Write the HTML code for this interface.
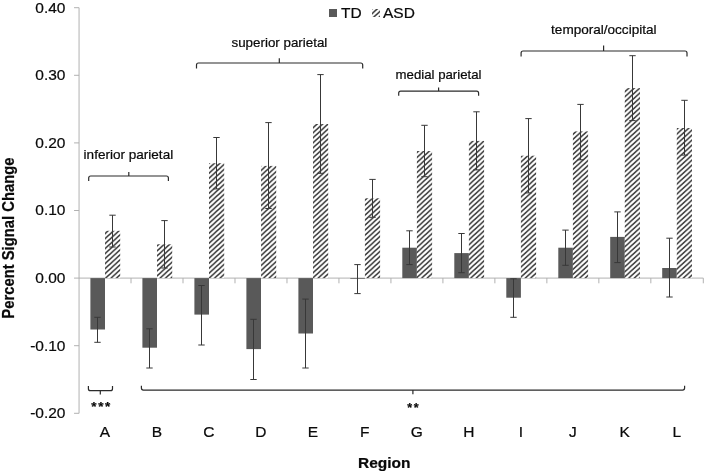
<!DOCTYPE html>
<html><head><meta charset="utf-8"><title>chart</title>
<style>
html,body{margin:0;padding:0;background:#fff;}
body{width:706px;height:473px;overflow:hidden;font-family:"Liberation Sans",sans-serif;}
svg{display:block;filter:grayscale(1) blur(0.45px)}
text{font-family:"Liberation Sans",sans-serif;fill:#0a0a0a;stroke:#0a0a0a;stroke-width:0.22px}
</style></head><body>
<svg width="706" height="473" viewBox="0 0 706 473">
<defs>
<pattern id="h" patternUnits="userSpaceOnUse" width="5" height="5" patternTransform="scale(1.09,1)">
<rect width="5" height="5" fill="#fff"/>
<path d="M-1 1 L1 -1 M-1 6 L6 -1 M4 6 L6 4" stroke="#3c3c3c" stroke-width="1.55" fill="none"/>
</pattern>
</defs>
<rect width="706" height="473" fill="#fff"/>

<g stroke="#adadad" stroke-width="0.95" fill="none">
<line x1="79.05" y1="7.699999999999989" x2="79.05" y2="413.30000000000007"/>
<line x1="79.05" y1="278.1" x2="703.31" y2="278.1"/>
<line x1="74.05" y1="7.7" x2="79.05" y2="7.7"/>
<line x1="74.05" y1="75.3" x2="79.05" y2="75.3"/>
<line x1="74.05" y1="142.9" x2="79.05" y2="142.9"/>
<line x1="74.05" y1="210.5" x2="79.05" y2="210.5"/>
<line x1="74.05" y1="278.1" x2="79.05" y2="278.1"/>
<line x1="74.05" y1="345.7" x2="79.05" y2="345.7"/>
<line x1="74.05" y1="413.3" x2="79.05" y2="413.3"/>
<line x1="131.03" y1="278.1" x2="131.03" y2="283.3"/>
<line x1="183.01" y1="278.1" x2="183.01" y2="283.3"/>
<line x1="234.99" y1="278.1" x2="234.99" y2="283.3"/>
<line x1="286.96999999999997" y1="278.1" x2="286.96999999999997" y2="283.3"/>
<line x1="338.95" y1="278.1" x2="338.95" y2="283.3"/>
<line x1="390.93" y1="278.1" x2="390.93" y2="283.3"/>
<line x1="442.90999999999997" y1="278.1" x2="442.90999999999997" y2="283.3"/>
<line x1="494.89" y1="278.1" x2="494.89" y2="283.3"/>
<line x1="546.87" y1="278.1" x2="546.87" y2="283.3"/>
<line x1="598.8499999999999" y1="278.1" x2="598.8499999999999" y2="283.3"/>
<line x1="650.8299999999999" y1="278.1" x2="650.8299999999999" y2="283.3"/>
<line x1="703.31" y1="278.1" x2="703.31" y2="283.3"/>
</g>
<text transform="translate(65.50,12.50) scale(1.02,1)" font-size="15.2" text-anchor="end">0.40</text>
<text transform="translate(65.50,80.10) scale(1.02,1)" font-size="15.2" text-anchor="end">0.30</text>
<text transform="translate(65.50,147.70) scale(1.02,1)" font-size="15.2" text-anchor="end">0.20</text>
<text transform="translate(65.50,215.30) scale(1.02,1)" font-size="15.2" text-anchor="end">0.10</text>
<text transform="translate(65.50,282.90) scale(1.02,1)" font-size="15.2" text-anchor="end">0.00</text>
<text transform="translate(65.50,350.50) scale(1.02,1)" font-size="15.2" text-anchor="end">-0.10</text>
<text transform="translate(65.50,418.10) scale(1.02,1)" font-size="15.2" text-anchor="end">-0.20</text>
<rect x="90.4" y="278.1" width="14.6" height="51.4" fill="#595959"/>
<rect x="105.0" y="230.8" width="15.2" height="47.3" fill="url(#h)"/>
<path d="M97.5 317.3 V342.3 M94.3 317.3 h6.4 M94.3 342.3 h6.4" stroke="#383838" stroke-width="1" fill="none"/>
<path d="M112.5 215.2 V247.0 M109.3 215.2 h6.4 M109.3 247.0 h6.4" stroke="#383838" stroke-width="1" fill="none"/>
<text transform="translate(104.94,437.00) scale(1.02,1)" font-size="15.2" text-anchor="middle">A</text>
<rect x="142.4" y="278.1" width="14.6" height="69.6" fill="#595959"/>
<rect x="157.0" y="244.3" width="15.2" height="33.8" fill="url(#h)"/>
<path d="M149.5 328.8 V368.0 M146.3 328.8 h6.4 M146.3 368.0 h6.4" stroke="#383838" stroke-width="1" fill="none"/>
<path d="M164.5 220.6 V268.0 M161.3 220.6 h6.4 M161.3 268.0 h6.4" stroke="#383838" stroke-width="1" fill="none"/>
<text transform="translate(156.92,437.00) scale(1.02,1)" font-size="15.2" text-anchor="middle">B</text>
<rect x="194.4" y="278.1" width="14.6" height="36.5" fill="#595959"/>
<rect x="209.0" y="163.2" width="15.2" height="114.9" fill="url(#h)"/>
<path d="M201.5 285.5 V345.0 M198.3 285.5 h6.4 M198.3 345.0 h6.4" stroke="#383838" stroke-width="1" fill="none"/>
<path d="M216.5 137.5 V188.9 M213.3 137.5 h6.4 M213.3 188.9 h6.4" stroke="#383838" stroke-width="1" fill="none"/>
<text transform="translate(208.90,437.00) scale(1.02,1)" font-size="15.2" text-anchor="middle">C</text>
<rect x="246.4" y="278.1" width="14.6" height="71.0" fill="#595959"/>
<rect x="261.0" y="165.9" width="15.2" height="112.2" fill="url(#h)"/>
<path d="M253.5 319.3 V379.5 M250.3 319.3 h6.4 M250.3 379.5 h6.4" stroke="#383838" stroke-width="1" fill="none"/>
<path d="M268.5 122.6 V208.5 M265.3 122.6 h6.4 M265.3 208.5 h6.4" stroke="#383838" stroke-width="1" fill="none"/>
<text transform="translate(260.88,437.00) scale(1.02,1)" font-size="15.2" text-anchor="middle">D</text>
<rect x="298.4" y="278.1" width="14.6" height="55.4" fill="#595959"/>
<rect x="313.0" y="124.0" width="15.2" height="154.1" fill="url(#h)"/>
<path d="M305.5 299.1 V368.0 M302.3 299.1 h6.4 M302.3 368.0 h6.4" stroke="#383838" stroke-width="1" fill="none"/>
<path d="M320.5 74.6 V173.3 M317.3 74.6 h6.4 M317.3 173.3 h6.4" stroke="#383838" stroke-width="1" fill="none"/>
<text transform="translate(312.86,437.00) scale(1.02,1)" font-size="15.2" text-anchor="middle">E</text>
<rect x="350.3" y="278.1" width="14.6" height="0.7" fill="#595959"/>
<rect x="364.9" y="198.3" width="15.2" height="79.8" fill="url(#h)"/>
<path d="M357.5 264.6 V293.6 M354.3 264.6 h6.4 M354.3 293.6 h6.4" stroke="#383838" stroke-width="1" fill="none"/>
<path d="M372.5 179.4 V217.3 M369.3 179.4 h6.4 M369.3 217.3 h6.4" stroke="#383838" stroke-width="1" fill="none"/>
<text transform="translate(364.84,437.00) scale(1.02,1)" font-size="15.2" text-anchor="middle">F</text>
<rect x="402.3" y="247.7" width="14.6" height="30.4" fill="#595959"/>
<rect x="416.9" y="151.0" width="15.2" height="127.1" fill="url(#h)"/>
<path d="M409.5 230.8 V264.6 M406.3 230.8 h6.4 M406.3 264.6 h6.4" stroke="#383838" stroke-width="1" fill="none"/>
<path d="M424.5 125.3 V176.7 M421.3 125.3 h6.4 M421.3 176.7 h6.4" stroke="#383838" stroke-width="1" fill="none"/>
<text transform="translate(416.82,437.00) scale(1.02,1)" font-size="15.2" text-anchor="middle">G</text>
<rect x="454.3" y="253.1" width="14.6" height="25.0" fill="#595959"/>
<rect x="468.9" y="140.9" width="15.2" height="137.2" fill="url(#h)"/>
<path d="M461.5 233.5 V272.7 M458.3 233.5 h6.4 M458.3 272.7 h6.4" stroke="#383838" stroke-width="1" fill="none"/>
<path d="M476.5 111.8 V169.9 M473.3 111.8 h6.4 M473.3 169.9 h6.4" stroke="#383838" stroke-width="1" fill="none"/>
<text transform="translate(468.80,437.00) scale(1.02,1)" font-size="15.2" text-anchor="middle">H</text>
<rect x="506.3" y="278.1" width="14.6" height="19.6" fill="#595959"/>
<rect x="520.9" y="155.7" width="15.2" height="122.4" fill="url(#h)"/>
<path d="M513.5 278.8 V317.3 M510.3 278.8 h6.4 M510.3 317.3 h6.4" stroke="#383838" stroke-width="1" fill="none"/>
<path d="M528.5 118.6 V192.9 M525.3 118.6 h6.4 M525.3 192.9 h6.4" stroke="#383838" stroke-width="1" fill="none"/>
<text transform="translate(520.78,437.00) scale(1.02,1)" font-size="15.2" text-anchor="middle">I</text>
<rect x="558.3" y="247.7" width="14.6" height="30.4" fill="#595959"/>
<rect x="572.9" y="131.4" width="15.2" height="146.7" fill="url(#h)"/>
<path d="M565.5 230.1 V265.3 M562.3 230.1 h6.4 M562.3 265.3 h6.4" stroke="#383838" stroke-width="1" fill="none"/>
<path d="M580.5 104.4 V159.8 M577.3 104.4 h6.4 M577.3 159.8 h6.4" stroke="#383838" stroke-width="1" fill="none"/>
<text transform="translate(572.76,437.00) scale(1.02,1)" font-size="15.2" text-anchor="middle">J</text>
<rect x="610.2" y="236.9" width="14.6" height="41.2" fill="#595959"/>
<rect x="624.8" y="88.1" width="15.2" height="190.0" fill="url(#h)"/>
<path d="M617.5 211.9 V262.6 M614.3 211.9 h6.4 M614.3 262.6 h6.4" stroke="#383838" stroke-width="1" fill="none"/>
<path d="M632.5 55.7 V120.6 M629.3 55.7 h6.4 M629.3 120.6 h6.4" stroke="#383838" stroke-width="1" fill="none"/>
<text transform="translate(624.74,437.00) scale(1.02,1)" font-size="15.2" text-anchor="middle">K</text>
<rect x="662.2" y="268.0" width="14.6" height="10.1" fill="#595959"/>
<rect x="676.8" y="128.0" width="15.2" height="150.1" fill="url(#h)"/>
<path d="M669.5 238.2 V297.0 M666.3 238.2 h6.4 M666.3 297.0 h6.4" stroke="#383838" stroke-width="1" fill="none"/>
<path d="M684.5 100.3 V155.1 M681.3 100.3 h6.4 M681.3 155.1 h6.4" stroke="#383838" stroke-width="1" fill="none"/>
<text transform="translate(676.72,437.00) scale(1.02,1)" font-size="15.2" text-anchor="middle">L</text>
<text transform="translate(384.30,468.00) scale(1.02,1)" font-size="15.2" text-anchor="middle" font-weight="bold">Region</text>
<text transform="translate(13.5,238.1) scale(1.06,1) rotate(-90)" font-size="14.8" font-weight="bold" text-anchor="middle">Percent Signal Change</text>
<rect x="329" y="9" width="8" height="8" fill="#595959"/>
<rect x="372" y="9" width="8" height="8" fill="url(#h)"/>
<text transform="translate(341.00,17.50) scale(1.02,1)" font-size="15.2" text-anchor="start">TD</text>
<text transform="translate(383.00,17.50) scale(1.02,1)" font-size="15.2" text-anchor="start">ASD</text>
<path d="M88.7 181.0 V178.0 Q88.7 176 90.7 176 H166.4 Q168.4 176 168.4 178.0 V181.0 M128.8 176 V172.0" stroke="#2b2b2b" stroke-width="1.2" fill="none"/>
<text x="83.6" y="158.7" font-size="12.8" textLength="89.6" lengthAdjust="spacingAndGlyphs" fill="#000" stroke="#000" stroke-width="0.25">inferior parietal</text>
<path d="M196.5 68.5 V65.0 Q196.5 63 198.5 63 H360.7 Q362.7 63 362.7 65.0 V68.5 M279.3 63 V58.2" stroke="#2b2b2b" stroke-width="1.2" fill="none"/>
<text x="231.5" y="47" font-size="12.8" textLength="95.8" lengthAdjust="spacingAndGlyphs" fill="#000" stroke="#000" stroke-width="0.25">superior parietal</text>
<path d="M398.7 95.7 V93.2 Q398.7 91.2 400.7 91.2 H476.6 Q478.6 91.2 478.6 93.2 V95.7 M438.6 91.2 V87.60000000000001" stroke="#2b2b2b" stroke-width="1.2" fill="none"/>
<text x="395.6" y="78.8" font-size="12.8" textLength="85.9" lengthAdjust="spacingAndGlyphs" fill="#000" stroke="#000" stroke-width="0.25">medial parietal</text>
<path d="M521.1 56.6 V53.0 Q521.1 51 523.1 51 H685.0 Q687 51 687 53.0 V56.6 M603.6 51 V45.6" stroke="#2b2b2b" stroke-width="1.2" fill="none"/>
<text x="551.1" y="33.8" font-size="12.8" textLength="105.4" lengthAdjust="spacingAndGlyphs" fill="#000" stroke="#000" stroke-width="0.25">temporal/occipital</text>
<path d="M88.4 386.09999999999997 V388.7 Q88.4 390.7 90.4 390.7 H110.5 Q112.5 390.7 112.5 388.7 V386.09999999999997 M100.3 390.7 V394.5" stroke="#2b2b2b" stroke-width="1.2" fill="none"/>
<path d="M141.4 385.70000000000005 V388.1 Q141.4 390.1 143.4 390.1 H682.6 Q684.6 390.1 684.6 388.1 V385.70000000000005 M412.9 390.1 V394.3" stroke="#2b2b2b" stroke-width="1.2" fill="none"/>
<text x="91.3" y="411.0" font-size="13.5" font-weight="bold" textLength="19" lengthAdjust="spacing">***</text>
<text x="407.2" y="412.4" font-size="12.5" font-weight="bold" textLength="11.4" lengthAdjust="spacing">**</text>
</svg></body></html>
